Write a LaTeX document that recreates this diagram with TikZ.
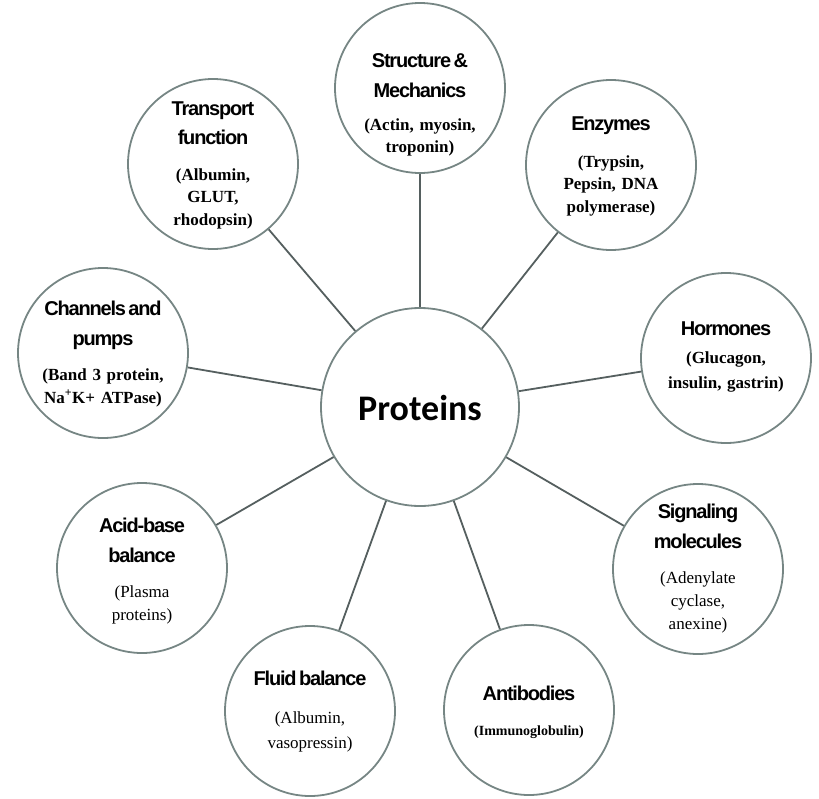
\documentclass[tikz,border=0pt]{standalone}
\usepackage{fontspec}
\setmainfont{Liberation Serif}
\newfontfamily\hdfam[LetterSpace=-6]{Liberation Sans}
\newfontfamily\cfam{Carlito}
\definecolor{ring}{RGB}{118,134,132}
\definecolor{wirec}{RGB}{85,95,95}
\newcommand\nsp{\hspace{2.5pt}}
\begin{document}
\begin{tikzpicture}[x=1pt,y=-1pt,
  bub/.style={circle, draw=ring, line width=1.8pt, minimum size=170pt, inner sep=0pt},
  hub/.style={circle, draw=ring, line width=1.8pt, minimum size=198pt, inner sep=0pt},
  link/.style={draw=wirec, line width=1.8pt},
  hd/.style={anchor=base, text width=170pt, align=center, inner sep=0pt, font=\hdfam\bfseries\fontsize{20}{#1}\selectfont},
  hd/.default=30,
  sb/.style={anchor=base, text width=170pt, align=center, inner sep=0pt, font=\fontsize{17}{#1}\selectfont},
  sb/.default=22.5,
  sbb/.style={anchor=base, text width=170pt, align=center, inner sep=0pt, font=\bfseries\fontsize{17}{#1}\selectfont},
  sbb/.default=22.5]
\useasboundingbox (0,0) rectangle (819,798);

\node[hub] (P) at (420,407) {};
\node[anchor=base, inner sep=0pt, font=\cfam\bfseries\fontsize{36}{40}\selectfont] (Pt) at (420,420) {Proteins};

\node[bub] (S) at (420,88) {};
\node[bub] (T) at (213,164) {};
\node[bub] (E) at (611,165) {};
\node[bub] (C) at (103,353) {};
\node[bub] (H) at (726,358) {};
\node[bub] (A) at (142,568) {};
\node[bub] (G) at (698,569) {};
\node[bub] (F) at (310,711) {};
\node[bub] (B) at (529,710) {};

\foreach \n in {S,T,E,C,H,A,G,F,B} \draw[link] (P) -- (\n);

\node[hd] (S-h) at (420,67) {Structure\nsp\&\\Mechanics};
\node[sbb={22}] (S-s) at (420,130) {(Actin, myosin,\\troponin)};

\node[hd={29}] (T-h) at (213,115) {Transport\\function};
\node[sbb] (T-s) at (213,180) {(Albumin,\\GLUT,\\rhodopsin)};

\node[hd] (E-h) at (611,130) {Enzymes};
\node[sbb] (E-s) at (611,167) {(Trypsin,\\Pepsin, DNA\\polymerase)};

\node[hd] (C-h) at (103,315) {Channels\nsp and\\pumps};
\node[sbb={23}] (C-s) at (103,380) {(Band 3 protein,\\Na\textsuperscript{+}K+ ATPase)};

\node[hd] (H-h) at (726,335) {Hormones};
\node[sbb={25}] (H-s) at (726,363) {(Glucagon,\\insulin, gastrin)};

\node[hd] (A-h) at (142,532) {Acid-base\\balance};
\node[sb={23}] (A-s) at (142,597) {(Plasma\\proteins)};

\node[hd] (G-h) at (698,518) {Signaling\\molecules};
\node[sb={23}] (G-s) at (698,583) {(Adenylate\\cyclase,\\anexine)};

\node[hd] (F-h) at (310,685) {Fluid\nsp balance};
\node[sb={25}] (F-s) at (310,723) {(Albumin,\\vasopressin)};

\node[hd] (B-h) at (529,700) {Antibodies};
\node[anchor=base, inner sep=0pt, font=\bfseries\fontsize{14}{16}\selectfont] (B-s) at (529,735) {(Immunoglobulin)};
\end{tikzpicture}
\end{document}
